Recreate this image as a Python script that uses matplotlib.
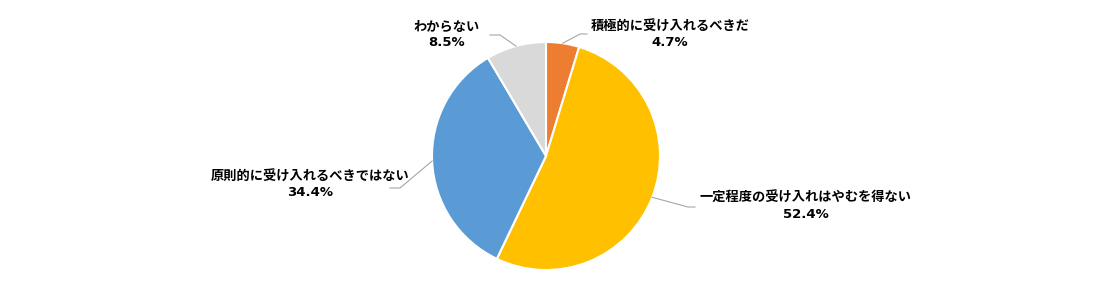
import numpy as np
import matplotlib.pyplot as plt

plt.rcParams['font.family'] = ['Noto Sans CJK JP', 'DejaVu Sans']

labels = ['積極的に受け入れるべきだ', '一定程度の受け入れはやむを得ない',
          '原則的に受け入れるべきではない', 'わからない']
values = [4.7, 52.4, 34.4, 8.5]
colors = ['#ED7D31', '#FFC000', '#5B9BD5', '#D9D9D9']

# label centre positions (pixels, y up) and elbow of leader line
label_pos = [(670, 251), (806, 80), (310, 101), (447, 251)]
elbow = [(580, 252), (688, 79), (400, 98), (500, 251)]

fig = plt.figure(figsize=(10.94, 2.86), dpi=100)
ax = fig.add_axes([0, 0, 1, 1])

cx, cy, r = 546, 130, 114
wedges, _ = ax.pie(values, colors=colors, startangle=90, counterclock=False,
                   center=(cx, cy), radius=r,
                   wedgeprops=dict(edgecolor='white', linewidth=1.5))

ax.set_xlim(0, 1094)
ax.set_ylim(0, 286)
ax.set_aspect('equal')
ax.axis('off')

for w, lab, v, (tx, ty), (ex, ey) in zip(wedges, labels, values, label_pos, elbow):
    ang = np.deg2rad((w.theta1 + w.theta2) / 2)
    px, py = cx + r * np.cos(ang), cy + r * np.sin(ang)
    # horizontal stub toward label
    hx = ex + (7 if tx > ex else -10)
    ax.plot([px, ex, hx], [py, ey, ey], color='#A6A6A6', linewidth=0.8)
    ax.text(tx, ty + 8, lab, ha='center', va='center', fontsize=9.5,
            fontweight='bold', color='black')
    ax.text(tx, ty - 8, f'{v}%', ha='center', va='center', fontsize=9.5,
            fontweight='bold', color='black', family='DejaVu Sans')

fig.savefig('out.png', dpi=100)
